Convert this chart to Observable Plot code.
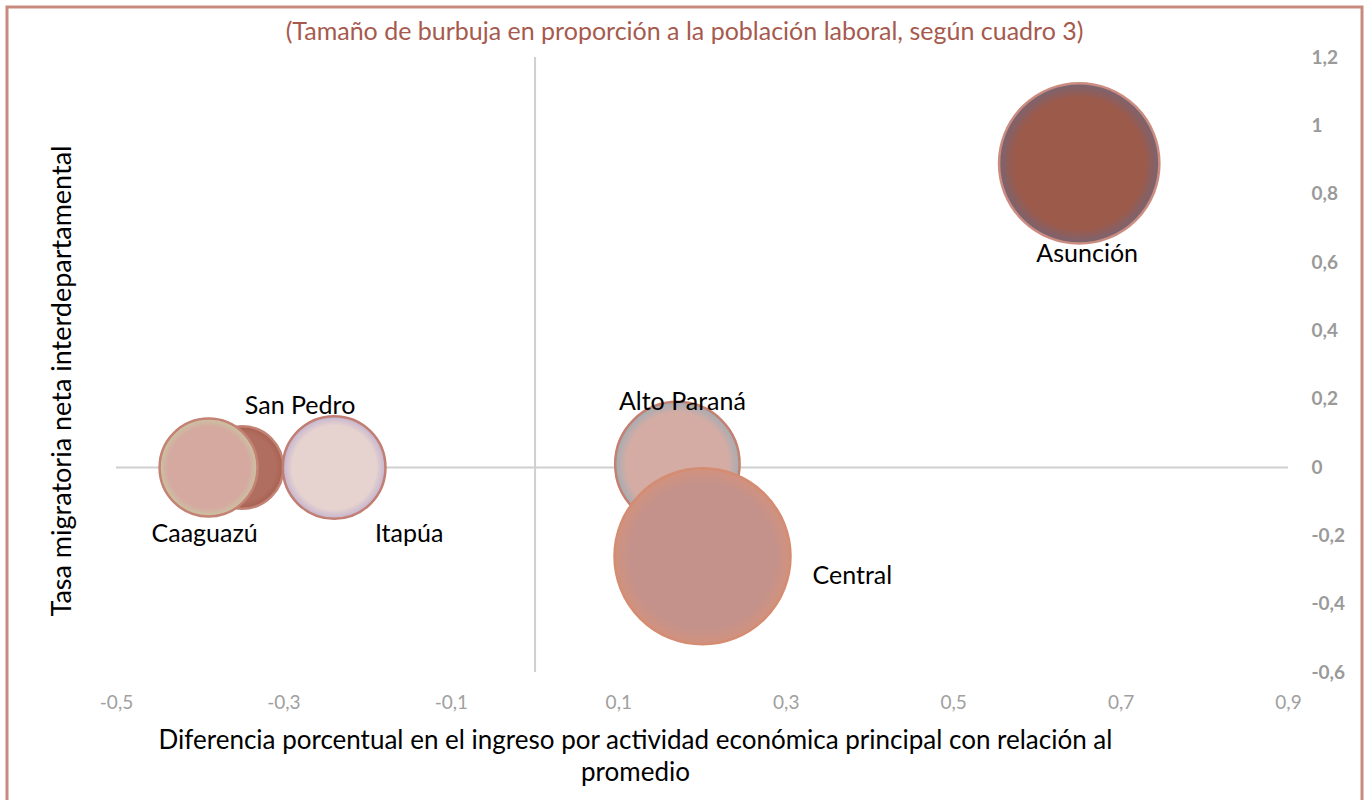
<!DOCTYPE html>
<html>
<head>
<meta charset="utf-8">
<script src="https://cdn.jsdelivr.net/npm/d3@7"></script>
<script src="https://cdn.jsdelivr.net/npm/@observablehq/plot@0.6"></script>
<style>
  html, body { margin: 0; padding: 0; background: #fff; }
  #chart { width: 1368px; height: 800px; position: relative; }
  svg { font-family: Lato, "Open Sans", sans-serif; }
</style>
</head>
<body>
<div id="chart"></div>
<script>
// ---- data ----
const departamentos = ["San Pedro", "Caaguazú", "Itapúa", "Alto Paraná", "Central", "Asunción"];
const difIngreso   = [-0.35, -0.39, -0.24, 0.17, 0.20, 0.65];   // x
const tasaMigr     = [0.00, 0.00, 0.00, 0.01, -0.26, 0.89];      // y
const poblLaboral  = [22, 31, 34, 50, 100, 83];                  // bubble size (relative)
const xTicks = [-0.5, -0.3, -0.1, 0.1, 0.3, 0.5, 0.7, 0.9];
const yTicks = [-0.6, -0.4, -0.2, 0, 0.2, 0.4, 0.6, 0.8, 1, 1.2];
const titulo = "(Tamaño de burbuja en proporción a la población laboral, según cuadro 3)";
const tituloY = "Tasa migratoria neta interdepartamental";
const tituloX = "Diferencia porcentual en el ingreso por actividad económica principal con relación al\npromedio";

// ---- styles (per bubble) ----
const styles = {
  "San Pedro":   {id: "g0", c: "#b06e60", e: "#a86050", s: "#c28274"},
  "Caaguazú":    {id: "g1", c: "#d5a8a0", e: "#cbc3a2", s: "#c48274"},
  "Itapúa":      {id: "g2", c: "#e6d2ce", e: "#c4b4d0", s: "#c27e72"},
  "Alto Paraná": {id: "g3", c: "#d5aca4", e: "#a4acb4", s: "#c48070"},
  "Central":     {id: "g4", c: "#c4928b", e: "#d2927e", s: "#d48c72"},
  "Asunción":    {id: "g5", c: "#9c5a4b", e: "#7a6472", s: "#cc8c80"}
};

const data = departamentos.map((d, i) => ({
  name: d, x: difIngreso[i], y: tasaMigr[i], size: poblLaboral[i]
}));
const comma = v => String(Math.round(v * 10) / 10).replace(".", ",");
const lab = name => data.filter(d => d.name === name);
const font = {fontSize: 25, fill: "#000"};

const plot = Plot.plot({
  width: 1368,
  height: 800,
  marginLeft: 116,
  marginRight: 80,
  marginTop: 57,
  marginBottom: 128,
  style: {fontFamily: "Lato, 'Open Sans', sans-serif", background: "#fff"},
  x: {domain: [-0.5, 0.9], label: null},
  y: {domain: [-0.6, 1.2], label: null},
  r: {type: "sqrt", domain: [0, 100], range: [0, 88]},
  color: {type: "identity"},
  marks: [
    Plot.ruleY([0], {stroke: "#cfcfcf", strokeWidth: 2}),
    Plot.ruleX([0], {stroke: "#cfcfcf", strokeWidth: 2}),
    Plot.axisX({ticks: xTicks, tickFormat: comma, tickSize: 0, tickPadding: 23, fontSize: 19, fill: "#a0a0a0", label: null}),
    Plot.axisY({anchor: "right", ticks: yTicks, tickFormat: comma, tickSize: 0, tickPadding: 23, fontSize: 19, fontWeight: "bold", fill: "#9a9a9a", label: null}),
    Plot.dot(data, {
      x: "x", y: "y", r: "size", sort: null,
      fill: d => `url(#${styles[d.name].id})`,
      stroke: d => styles[d.name].s,
      strokeWidth: 2.5, fillOpacity: 1
    }),
    Plot.text(lab("Asunción"), {x: "x", y: "y", text: "name", dx: 8, dy: 91, ...font}),
    Plot.text(lab("Alto Paraná"), {x: "x", y: "y", text: "name", dx: 5, dy: -62, ...font}),
    Plot.text(lab("Central"), {x: "x", y: "y", text: "name", dx: 110, dy: 20, textAnchor: "start", ...font}),
    Plot.text(lab("Itapúa"), {x: "x", y: "y", text: "name", dx: 75, dy: 66, ...font}),
    Plot.text(lab("San Pedro"), {x: "x", y: "y", text: "name", dx: 58, dy: -62, ...font}),
    Plot.text(lab("Caaguazú"), {x: "x", y: "y", text: "name", dx: -4, dy: 66, ...font}),
    Plot.text([titulo], {frameAnchor: "top", lineAnchor: "middle", dx: -18, dy: -26, fontSize: 25, fill: "#a65a4e"}),
    Plot.text([tituloY], {frameAnchor: "left", textAnchor: "middle", lineAnchor: "middle", dx: -54, dy: 16, rotate: -90, fontSize: 27, fill: "#000"}),
    Plot.text([tituloX], {frameAnchor: "bottom", lineAnchor: "middle", dx: -67, dy: 82, fontSize: 26, fill: "#000", lineHeight: 1.23})
  ]
});

const svg = d3.select(plot);
svg.selectAll('[aria-label*="x-axis"] text').style("font-size", "19px").style("fill", "#a0a0a0");
svg.selectAll('[aria-label*="y-axis"] text').style("font-size", "19px").style("font-weight", "bold").style("fill", "#9a9a9a");

// gradients
const defs = svg.insert("defs", ":first-child");
for (const k of Object.keys(styles)) {
  const st = styles[k];
  const g = defs.append("radialGradient").attr("id", st.id).attr("cx", "50%").attr("cy", "50%").attr("r", "50%");
  g.append("stop").attr("offset", "0%").attr("stop-color", st.c);
  g.append("stop").attr("offset", "82%").attr("stop-color", st.c);
  g.append("stop").attr("offset", "100%").attr("stop-color", st.e);
}
// outer border
svg.append("rect").attr("x", 7).attr("y", 7).attr("width", 1355).attr("height", 800)
  .attr("fill", "none").attr("stroke", "#c98a7e").attr("stroke-width", 3);

document.getElementById("chart").appendChild(plot);
</script>
</body>
</html>
